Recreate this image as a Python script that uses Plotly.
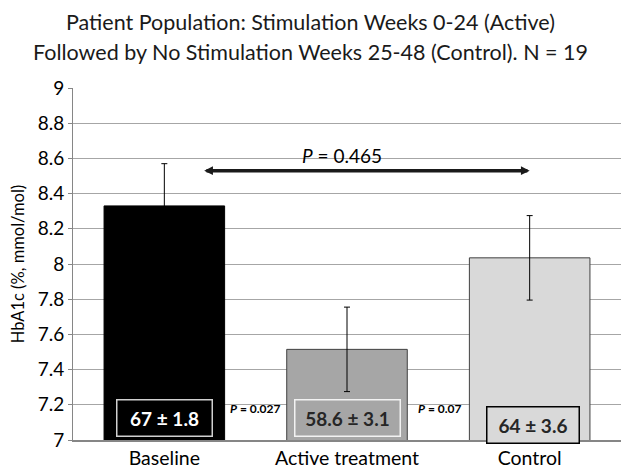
import plotly.graph_objects as go

categories = ["Baseline", "Active treatment", "Control"]
values = [8.33, 7.515, 8.035]
errors = [0.24, 0.24, 0.24]
box_labels = ["67 ± 1.8", "58.6 ± 3.1", "64 ± 3.6"]
pair_pvalues = ["P = 0.027", "P = 0.07"]
overall_p = "0.465"
title_lines = ["Patient Population: Stimulation Weeks 0-24 (Active)",
               "Followed by No Stimulation Weeks 25-48 (Control). N = 19"]
y_ticks = [7, 7.2, 7.4, 7.6, 7.8, 8, 8.2, 8.4, 8.6, 8.8, 9]
y_ticktext = ["7", "7.2", "7.4", "7.6", "7.8", "8", "8.2", "8.4", "8.6", "8.8", "9"]

FONT = "Lato, 'Open Sans', sans-serif"
fill = ["#000000", "#a6a6a6", "#d9d9d9"]
outline = ["#000000", "#404040", "#404040"]

fig = go.Figure()
fig.add_trace(go.Bar(
    x=categories, y=values, width=0.66,
    marker=dict(color=fill, line=dict(color=outline, width=1)),
    error_y=dict(type="data", array=errors, visible=True, color="#000000", thickness=1, width=3),
))

annotations = []
box_style = [
    dict(bg="#000000", border="#d0d0d0", fc="#ffffff", y=7.125, w=95),
    dict(bg="#a6a6a6", border="#f2f2f2", fc="#262626", y=7.125, w=105),
    dict(bg="#d9d9d9", border="#000000", fc="#262626", y=7.085, w=92),
]
for i, (lab, st) in enumerate(zip(box_labels, box_style)):
    xi = i if i < 2 else 2.02
    annotations.append(dict(
        x=xi, y=st["y"], xref="x", yref="y", text="<b>" + lab + "</b>", showarrow=False,
        font=dict(family=FONT, size=19, color=st["fc"]),
        bgcolor=st["bg"], bordercolor=st["border"], borderwidth=1.5,
        width=st["w"] - 3, height=33, align="center",
    ))
for xp, txt in zip([0.5, 1.51], pair_pvalues):
    annotations.append(dict(
        x=xp, y=7.18, xref="x", yref="y",
        text="<b><i>P</i>" + txt[1:] + "</b>", showarrow=False,
        font=dict(family=FONT, size=12, color="#000000"),
    ))
# double-headed arrow
annotations.append(dict(
    x=2.0, y=8.53, ax=0.21, ay=8.53, xref="x", yref="y", axref="x", ayref="y",
    text="", showarrow=True, arrowhead=2, startarrowhead=2, arrowside="end+start",
    arrowwidth=3.5, arrowsize=0.5, startarrowsize=0.5, arrowcolor="#1a1a1a",
))
annotations.append(dict(
    x=0.975, y=8.615, xref="x", yref="y", text="<i>P</i> = " + overall_p, showarrow=False,
    font=dict(family=FONT, size=19, color="#000000"),
))
# title lines (centred on the figure, not on the plot area)
for ty, line in zip([1.1875, 1.102], title_lines):
    annotations.append(dict(
        x=0.434, y=ty, xref="paper", yref="paper", xanchor="center", yanchor="middle",
        text=line, showarrow=False,
        font=dict(family=FONT, size=21.5, color="#1a1a1a"),
    ))

fig.update_layout(
    width=622, height=472,
    margin=dict(l=73, r=1, t=88, b=32, autoexpand=False),
    paper_bgcolor="white", plot_bgcolor="white",
    showlegend=False,
    font=dict(family=FONT, color="#000000"),
    annotations=annotations,
)
fig.update_xaxes(
    showline=True, linecolor="#868686", linewidth=1.5,
    tickfont=dict(family=FONT, size=19.5, color="#000000"),
    ticks="", showgrid=False, automargin=False,
)
fig.update_yaxes(
    range=[7, 9], tickvals=y_ticks, ticktext=y_ticktext,
    showline=True, linecolor="#868686", linewidth=1,
    ticks="outside", ticklen=4, tickcolor="#868686",
    gridcolor="#a6a6a6", gridwidth=1.2,
    tickfont=dict(family=FONT, size=19, color="#000000"),
    title=dict(text="HbA1c (%, mmol/mol)", font=dict(family=FONT, size=16.5, color="#000000"), standoff=8),
    zeroline=False, automargin=False,
)

fig.write_html("out.html", config={"displayModeBar": False},
               post_script="document.body.style.margin='0';")
